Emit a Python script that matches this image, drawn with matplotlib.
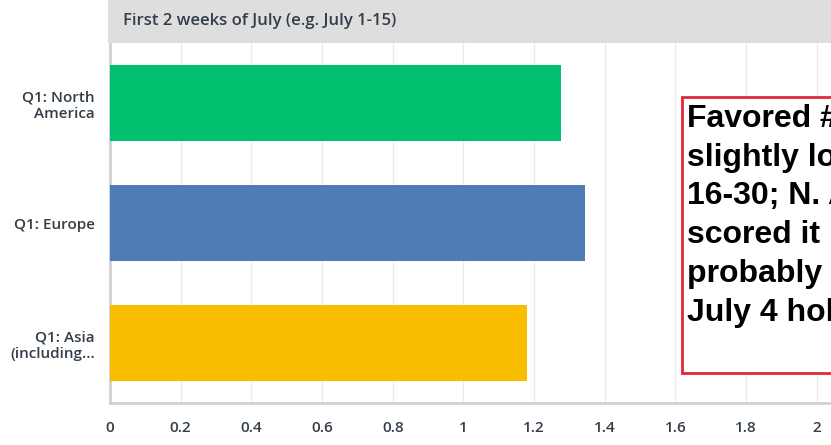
import matplotlib.pyplot as plt
from matplotlib.patches import Rectangle

# Data
categories = ['Q1: North\nAmerica', 'Q1: Europe', 'Q1: Asia\n(including...']
values = [1.275, 1.345, 1.18]
colors = ['#00bf6f', '#507cb6', '#f9be00']
ticks = [0, 0.2, 0.4, 0.6, 0.8, 1, 1.2, 1.4, 1.6, 1.8, 2]
tick_labels = ['0', '0.2', '0.4', '0.6', '0.8', '1', '1.2', '1.4', '1.6', '1.8', '2']
header = 'First 2 weeks of July (e.g. July 1-15)'
note = 'Favored #1 but\nslightly lower than\n16-30; N. America\nscored it , most\nprobably due to\nJuly 4 holiday'

W, H = 831, 445
fig = plt.figure(figsize=(W / 100, H / 100), dpi=100)
ax = fig.add_axes([110 / W, 42 / H, (W - 110) / W, (403 - 43) / H])

ypos = [0, 1, 2]
ax.barh(ypos, values, height=0.63, color=colors, zorder=3)
ax.set_ylim(2.5, -0.5)
ax.set_xlim(0, 2.04)

ax.set_xticks(ticks)
ax.set_xticklabels(tick_labels)
ax.set_yticks(ypos)
ax.set_yticklabels(categories, ha='right', multialignment='right')
ax.tick_params(axis='both', length=0, labelsize=11, colors='#333e48')
ax.tick_params(axis='x', pad=13)
ax.tick_params(axis='y', pad=11)
for lab in ax.get_xticklabels() + ax.get_yticklabels():
    lab.set_family('Open Sans')
    lab.set_fontweight('semibold')

ax.grid(axis='x', color='#ebebeb', linewidth=1, zorder=0)
for s in ['top', 'right']:
    ax.spines[s].set_visible(False)
ax.spines['left'].set_color('#d0d0d0')
ax.spines['left'].set_linewidth(2)
ax.spines['bottom'].set_color('#d0d0d0')
ax.spines['bottom'].set_linewidth(2)

# header band
fig.patches.append(Rectangle((108 / W, (H - 43) / H), 1, 43 / H, transform=fig.transFigure,
                             facecolor='#dedede', edgecolor='none'))
fig.text(123 / W, (H - 21) / H, header, fontsize=12, fontweight='semibold',
         family='Open Sans', color='#333e48', va='center', ha='left')

# annotation box
fig.patches.append(Rectangle((682 / W, (H - 373) / H), 0.5, (373 - 97) / H, transform=fig.transFigure,
                             facecolor='white', edgecolor='#e0283c', linewidth=2, zorder=5))
fig.text(687 / W, (H - 104) / H, note, fontsize=23, fontweight='bold', family='Liberation Sans',
         color='black', va='top', ha='left', linespacing=1.38, zorder=6)

fig.savefig('out.png', dpi=100)
